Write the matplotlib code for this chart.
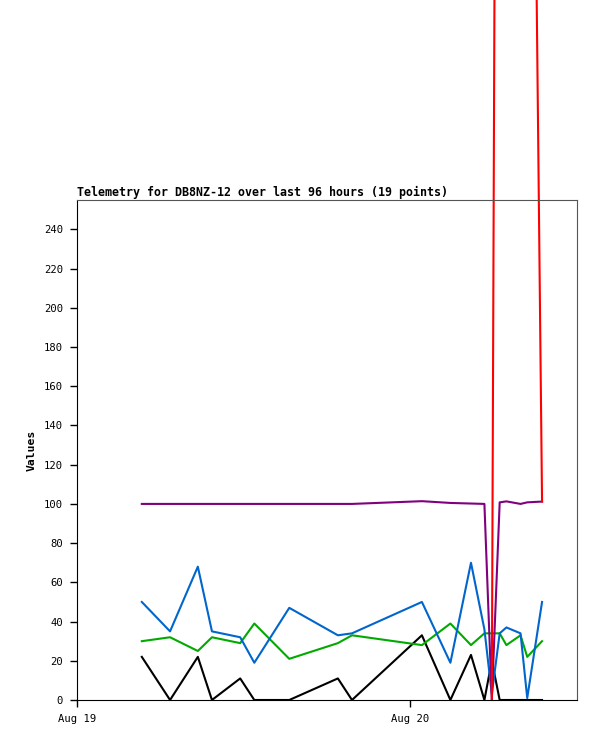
import numpy as np
import pandas as pd
import matplotlib
matplotlib.use("Agg")
import matplotlib.pyplot as plt
import matplotlib.dates as mdates

# czasy pomiarow (19 punktow)
times = pd.to_datetime([
    "2023-08-19 04:40", "2023-08-19 06:42", "2023-08-19 08:42", "2023-08-19 09:43",
    "2023-08-19 11:45", "2023-08-19 12:46", "2023-08-19 15:17", "2023-08-19 18:47",
    "2023-08-19 19:48", "2023-08-20 00:50", "2023-08-20 02:53", "2023-08-20 04:22",
    "2023-08-20 05:20", "2023-08-20 05:52", "2023-08-20 06:26", "2023-08-20 06:55",
    "2023-08-20 07:56", "2023-08-20 08:25", "2023-08-20 09:29",
])

black = [22, 0, 22, 0, 11, 0, 0, 11, 0, 33, 0, 23, 0, 20, 0, 0, 0, 0, 0]
green = [30, 32, 25, 32, 29, 39, 21, 29, 33, 28, 39, 28, 34, 34, 34, 28, 33, 22, 30]
blue = [50, 35, 68, 35, 32, 19, 47, 33, 34, 50, 19, 70, 36, 3, 34, 37, 34, 1, 50]
purple = [100, 100, 100, 100, 100, 100, 100, 100, 100, 101.4, 100.5, 100.2, 100,
          0, 100.8, 101.3, 100, 100.8, 101.2]
red = [np.nan] * 13 + [0, 1070, 1000, 900, 810, 101.2]

fig = plt.figure(figsize=(5.97, 7.41), dpi=100)
ax = fig.add_axes([77/597, 41/741, 500/597, 500/741])

ax.plot(times, black, color="black", lw=1.5)
ax.plot(times, green, color="#00aa00", lw=1.5)
ax.plot(times, blue, color="#0066cc", lw=1.5)
ax.plot(times, purple, color="#800080", lw=1.5)
ax.plot(times, red, color="red", lw=1.5, clip_on=False)  # czerwona wychodzi poza wykres

ax.set_xlim(pd.Timestamp("2023-08-19 00:00"), pd.Timestamp("2023-08-20 12:00"))
ax.set_ylim(0, 255)
ax.set_yticks(np.arange(0, 241, 20))
ax.xaxis.set_major_locator(mdates.DayLocator())
ax.xaxis.set_major_formatter(mdates.DateFormatter("%b %d"))

ax.tick_params(axis="both", direction="out", length=5, width=1, labelsize=7.6,
               pad=5)
for lab in ax.get_xticklabels() + ax.get_yticklabels():
    lab.set_family("DejaVu Sans Mono")

ax.spines["left"].set_color("black")
ax.spines["bottom"].set_color("black")
ax.spines["top"].set_color("#555555")
ax.spines["right"].set_color("#555555")

ax.set_title("Telemetry for DB8NZ-12 over last 96 hours (19 points)", loc="left",
             family="DejaVu Sans Mono", fontweight="bold", fontsize=8.4, pad=3)
ax.set_ylabel("Values", family="DejaVu Sans Mono", fontweight="bold", fontsize=8.2,
              labelpad=5)

plt.savefig("out.png", dpi=100)
